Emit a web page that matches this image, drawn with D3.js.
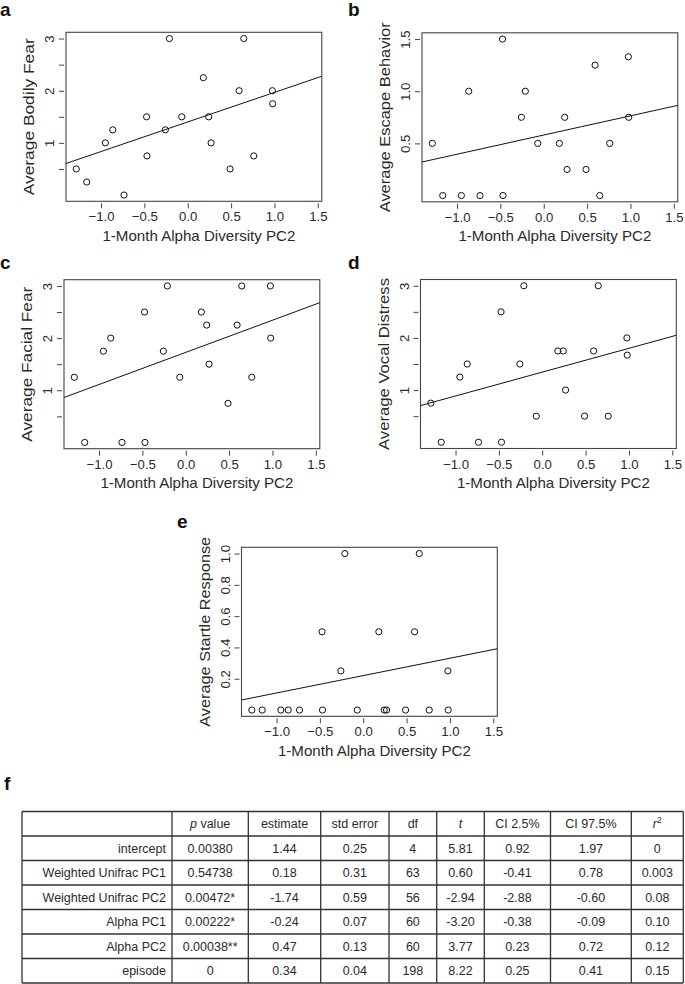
<!DOCTYPE html>
<html>
<head>
<meta charset="utf-8">
<script src="https://cdn.jsdelivr.net/npm/d3@7"></script>
<style>
  html, body { margin: 0; padding: 0; background: #fff; }
  svg { display: block; }
  text { font-family: "Liberation Sans", Arial, Helvetica, sans-serif; }
</style>
</head>
<body>
<script>
// ---------- Data ----------
const alphaPC2 = [-1.285, -1.165, -0.95, -0.865, -0.735, -0.475, -0.47, -0.258, -0.212, -0.069,
                  0.18, 0.242, 0.269, 0.488, 0.592, 0.646, 0.761, 0.976, 0.98];
const bodilyFear = [0.5, 0.25, 1, 1.25, 0, 1.5, 0.75, 1.25, 3, 1.5, 2.25, 1.5, 1, 0.5, 2, 3, 0.75, 2, 1.75];
const escapeBehavior = [0.5, 0, 0, 1, 0, 1.5, 0, 0.75, 1, 0.5, 0.5, 0.75, 0.25, 0.25, 1.25, 0, 0.5, 1.33, 0.75];
const facialFear = [1.25, 0, 1.75, 2, 0, 2.5, 0, 1.75, 3, 1.25, 2.5, 2.25, 1.5, 0.75, 2.25, 3, 1.25, 3, 2];
const vocalDistress = [0.75, 0, 1.25, 1.5, 0, 2.5, 0, 1.5, 3, 0.5, 1.75, 1.75, 1, 0.5, 1.75, 3, 0.5, 2, 1.67];
const startleResponse = [0, 0, 0, 0, 0, 0.5, 0, 0.25, 1, 0, 0.5, 0, 0, 0, 0.5, 1, 0, 0.25, 0];

// fitted lines: [intercept, slope]
const fitBodily = [1.401, 0.567];
const fitEscape = [0.580, 0.184];
const fitFacial = [1.727, 0.616];
const fitVocal = [1.344, 0.457];
const fitStartle = [0.220, 0.111];

const xTicks = [-1.0, -0.5, 0.0, 0.5, 1.0, 1.5];
const xTitle = "1-Month Alpha Diversity PC2";

// table
const tableHeaders = ["", "p value", "estimate", "std error", "df", "t", "CI 2.5%", "CI 97.5%", "r2"];
const rowLabels = ["intercept", "Weighted Unifrac PC1", "Weighted Unifrac PC2", "Alpha PC1", "Alpha PC2", "episode"];
const pValues = ["0.00380", "0.54738", "0.00472*", "0.00222*", "0.00038**", "0"];
const estimates = ["1.44", "0.18", "-1.74", "-0.24", "0.47", "0.34"];
const stdErrors = ["0.25", "0.31", "0.59", "0.07", "0.13", "0.04"];
const dfs = ["4", "63", "56", "60", "60", "198"];
const tValues = ["5.81", "0.60", "-2.94", "-3.20", "3.77", "8.22"];
const ci025 = ["0.92", "-0.41", "-2.88", "-0.38", "0.23", "0.25"];
const ci975 = ["1.97", "0.78", "-0.60", "-0.09", "0.72", "0.41"];
const rSquared = ["0", "0.003", "0.08", "0.10", "0.12", "0.15"];

// ---------- Layout ----------
const W = 685, H = 984;
const svg = d3.select("body").append("svg").attr("width", W).attr("height", H);

const boxW = 255.8, boxH = 169;
const xDomain = [-1.404, 1.546];
const TXT = "#2a2a2a";

const panels = [
  { letter: "a", lx: 0, ly: 15.5, left: 66, top: 32.3, ys: bodilyFear, fit: fitBodily,
    yDomain: [-0.12, 3.12], yTicks: [0.5, 1, 1.5, 2, 2.5, 3], yFmt: d => Number.isInteger(d) ? String(d) : "",
    yTitle: "Average Bodily Fear", yTitleLen: 157 },
  { letter: "b", lx: 348, ly: 16, left: 422, top: 32.8, ys: escapeBehavior, fit: fitEscape,
    yDomain: [-0.06, 1.56], yTicks: [0.5, 1.0, 1.5], yFmt: d3.format(".1f"),
    yTitle: "Average Escape Behavior", yTitleLen: 190 },
  { letter: "c", lx: 0, ly: 269, left: 64, top: 279.7, ys: facialFear, fit: fitFacial,
    yDomain: [-0.12, 3.12], yTicks: [0.5, 1, 1.5, 2, 2.5, 3], yFmt: d => Number.isInteger(d) ? String(d) : "",
    yTitle: "Average Facial Fear", yTitleLen: 155 },
  { letter: "d", lx: 348, ly: 268.5, left: 420.5, top: 279.5, ys: vocalDistress, fit: fitVocal,
    yDomain: [-0.12, 3.12], yTicks: [0.5, 1, 1.5, 2, 2.5, 3], yFmt: d => Number.isInteger(d) ? String(d) : "",
    yTitle: "Average Vocal Distress", yTitleLen: 172 },
  { letter: "e", lx: 177, ly: 527.5, left: 241.5, top: 547.3, ys: startleResponse, fit: fitStartle,
    yDomain: [-0.04, 1.04], yTicks: [0.2, 0.4, 0.6, 0.8, 1.0], yFmt: d3.format(".1f"),
    yTitle: "Average Startle Response", yTitleLen: 190 }
];

panels.forEach((p, i) => {
  const x = d3.scaleLinear().domain(xDomain).range([p.left, p.left + boxW]);
  const y = d3.scaleLinear().domain(p.yDomain).range([p.top + boxH, p.top]);
  const g = svg.append("g");

  // panel letter
  svg.append("text").attr("x", p.lx).attr("y", p.ly)
    .attr("font-size", 19).attr("font-weight", "bold").attr("fill", "#111").text(p.letter);

  // clip
  const clipId = "clip" + i;
  svg.append("clipPath").attr("id", clipId).append("rect")
    .attr("x", p.left).attr("y", p.top).attr("width", boxW).attr("height", boxH);

  // x axis
  const xa = g.append("g").attr("transform", `translate(0,${p.top + boxH + 2})`)
    .call(d3.axisBottom(x).tickValues(xTicks).tickSize(5).tickFormat(d => d3.format(".1f")(d).replace("-", "\u2212")));
  xa.select(".domain").remove();
  xa.selectAll(".tick line").attr("stroke", "#444");
  xa.selectAll(".tick text").attr("font-size", 13.2).attr("fill", TXT)
    .attr("font-family", '"Liberation Sans", Arial, sans-serif')
    .attr("y", 18).attr("dy", 0);

  // y axis
  const ya = g.append("g").attr("transform", `translate(${p.left - 2},0)`)
    .call(d3.axisLeft(y).tickValues(p.yTicks).tickSize(5).tickFormat(p.yFmt));
  ya.select(".domain").remove();
  ya.selectAll(".tick line").attr("stroke", "#444");
  ya.selectAll(".tick text").attr("font-size", 13.2).attr("fill", TXT)
    .attr("font-family", '"Liberation Sans", Arial, sans-serif')
    .attr("x", null).attr("dy", null)
    .attr("text-anchor", "middle")
    .attr("transform", "translate(-10,0) rotate(-90)");

  // box
  g.append("rect").attr("x", p.left).attr("y", p.top).attr("width", boxW).attr("height", boxH)
    .attr("fill", "none").attr("stroke", "#444").attr("stroke-width", 1.1);

  // regression line
  g.append("line").attr("clip-path", `url(#${clipId})`)
    .attr("x1", x(xDomain[0])).attr("y1", y(p.fit[0] + p.fit[1] * xDomain[0]))
    .attr("x2", x(xDomain[1])).attr("y2", y(p.fit[0] + p.fit[1] * xDomain[1]))
    .attr("stroke", "#111").attr("stroke-width", 1);

  // points
  g.selectAll("circle.pt").data(alphaPC2.map((v, k) => [v, p.ys[k]])).enter()
    .append("circle").attr("class", "pt")
    .attr("cx", d => x(d[0])).attr("cy", d => y(d[1])).attr("r", 3.1)
    .attr("fill", "none").attr("stroke", "#111").attr("stroke-width", 1);

  // titles
  g.append("text").attr("x", p.left + boxW / 2 + 5).attr("y", p.top + boxH + 39.5)
    .attr("text-anchor", "middle").attr("font-size", 15).attr("fill", TXT)
    .attr("textLength", 193).attr("lengthAdjust", "spacingAndGlyphs").text(xTitle);
  g.append("text").attr("transform", `translate(${p.left - 32},${p.top + boxH / 2}) rotate(-90)`)
    .attr("text-anchor", "middle").attr("font-size", 15.5).attr("fill", TXT)
    .attr("textLength", p.yTitleLen).attr("lengthAdjust", "spacingAndGlyphs").text(p.yTitle);
});

// ---------- Table ----------
svg.append("text").attr("x", 4).attr("y", 790).attr("font-size", 19).attr("font-weight", "bold")
  .attr("fill", "#111").text("f");

const colEdges = [22, 172, 248.3, 320.7, 389, 436.7, 484.3, 550.5, 631.3, 683.3];
const tTop = 811.5, rowH = 24.5;
const nRows = rowLabels.length + 1;
const rowsY = d3.scaleLinear().domain([0, nRows]).range([tTop, tTop + rowH * nRows]);
const tg = svg.append("g");

const columns = [rowLabels, pValues, estimates, stdErrors, dfs, tValues, ci025, ci975, rSquared];

// cells text
const ts = 12.5;
// header
tableHeaders.forEach((h, c) => {
  if (!h) return;
  const cx = (colEdges[c] + colEdges[c + 1]) / 2;
  const t = tg.append("text").attr("x", cx).attr("y", rowsY(0.5) + 4.5)
    .attr("text-anchor", "middle").attr("font-size", ts).attr("fill", TXT);
  if (h === "p value") {
    t.append("tspan").attr("font-style", "italic").text("p");
    t.append("tspan").text(" value");
  } else if (h === "t") {
    t.append("tspan").attr("font-style", "italic").text("t");
  } else if (h === "r2") {
    t.append("tspan").attr("font-style", "italic").text("r");
    t.append("tspan").attr("font-size", 8.5).attr("dy", -5).text("2");
  } else {
    t.text(h);
  }
});
columns.forEach((col, c) => {
  col.forEach((v, r) => {
    const yb = rowsY(r + 1.5) + 4.5;
    if (c === 0) {
      tg.append("text").attr("x", colEdges[1] - 6).attr("y", yb).attr("text-anchor", "end")
        .attr("font-size", ts).attr("fill", TXT).text(v);
    } else {
      tg.append("text").attr("x", (colEdges[c] + colEdges[c + 1]) / 2).attr("y", yb)
        .attr("text-anchor", "middle").attr("font-size", ts).attr("fill", TXT).text(v);
    }
  });
});
// grid lines
d3.range(nRows + 1).forEach(r => {
  tg.append("line").attr("x1", colEdges[0]).attr("x2", colEdges[colEdges.length - 1])
    .attr("y1", rowsY(r)).attr("y2", rowsY(r)).attr("stroke", "#333").attr("stroke-width", 1.3);
});
colEdges.forEach(cx => {
  tg.append("line").attr("x1", cx).attr("x2", cx)
    .attr("y1", rowsY(0)).attr("y2", rowsY(nRows)).attr("stroke", "#333").attr("stroke-width", 1.3);
});
</script>
</body>
</html>
